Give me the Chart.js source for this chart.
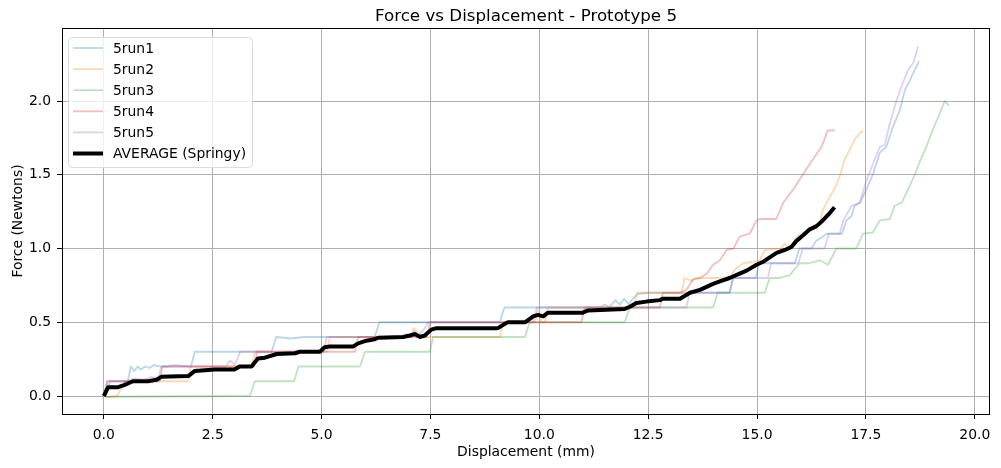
<!DOCTYPE html>
<html>
<head>
<meta charset="utf-8">
<script src="https://cdn.jsdelivr.net/npm/chart.js@4.4.0/dist/chart.umd.min.js"></script>
<style>
	html, body { margin: 0; padding: 0; background: #fff; }
</style>
</head>
<body>
<canvas id="forceChart" width="1001" height="468"></canvas>
<script>
// displacement (mm), force (N) pairs
const run1 = [[0,0],[0.15,0.1],[0.55,0.1],[0.62,0.2],[0.7,0.17],[0.78,0.2],[0.85,0.18],[0.95,0.2],[1.05,0.19],[1.15,0.21],[1.3,0.2],[1.45,0.2],[1.6,0.21],[2.0,0.2],[2.09,0.3],[3.85,0.3],[3.96,0.4],[4.3,0.39],[4.6,0.4],[6.22,0.4],[6.33,0.5],[9.09,0.5],[9.2,0.6],[11.4,0.6],[11.5,0.62],[11.6,0.6],[11.75,0.65],[11.85,0.62],[11.95,0.66],[12.05,0.62],[12.15,0.66],[12.25,0.69],[12.5,0.7],[14.37,0.7],[14.45,0.8],[14.97,0.8],[15.05,0.9],[15.87,0.9],[15.97,1.0],[16.25,1.0],[16.35,1.05],[16.6,1.1],[16.95,1.1],[17.05,1.19],[17.17,1.22],[17.24,1.29],[17.36,1.31],[17.51,1.4],[17.67,1.51],[17.82,1.65],[17.97,1.69],[18.09,1.8],[18.28,1.94],[18.39,2.07],[18.51,2.14],[18.62,2.21],[18.72,2.27]];
const run2 = [[0,0],[0.1,-0.01],[0.3,0],[0.4,0.05],[0.48,0.1],[1.93,0.1],[2.0,0.2],[3.4,0.2],[3.47,0.3],[5.12,0.3],[5.19,0.4],[7.05,0.4],[7.12,0.46],[7.2,0.43],[7.28,0.4],[9.1,0.4],[9.17,0.5],[9.9,0.5],[9.97,0.58],[10.05,0.5],[10.13,0.5],[10.2,0.6],[12.15,0.6],[12.25,0.7],[13.27,0.7],[13.34,0.8],[13.5,0.78],[13.6,0.8],[14.37,0.8],[14.5,0.86],[14.68,0.9],[14.9,0.91],[15.06,0.92],[15.18,0.99],[15.55,1.0],[15.64,1.035],[15.71,0.995],[15.8,1.02],[15.94,1.09],[16.13,1.11],[16.32,1.16],[16.44,1.17],[16.51,1.26],[16.63,1.33],[16.79,1.41],[16.9,1.49],[17.01,1.6],[17.13,1.67],[17.24,1.74],[17.36,1.78],[17.43,1.8]];
const run3 = [[0,0],[0.1,-0.005],[3.35,0],[3.47,0.1],[4.37,0.1],[4.47,0.2],[5.88,0.2],[6.0,0.3],[7.49,0.3],[7.56,0.4],[9.67,0.4],[9.78,0.5],[11.96,0.5],[12.08,0.6],[13.99,0.6],[14.1,0.7],[15.18,0.7],[15.29,0.8],[15.5,0.8],[15.75,0.82],[15.98,0.9],[16.2,0.9],[16.44,0.92],[16.63,0.89],[16.82,1.0],[17.28,1.0],[17.43,1.1],[17.66,1.11],[17.82,1.19],[18.05,1.2],[18.16,1.29],[18.32,1.31],[18.47,1.4],[18.62,1.5],[18.74,1.59],[18.89,1.69],[19.0,1.78],[19.16,1.89],[19.31,2.0],[19.41,1.97]];
const run4 = [[0,0],[0.08,0.1],[1.28,0.1],[1.35,0.2],[3.45,0.2],[3.52,0.3],[5.77,0.3],[5.84,0.4],[7.42,0.4],[7.49,0.5],[10.97,0.5],[11.04,0.6],[12.77,0.6],[12.84,0.7],[13.23,0.7],[13.38,0.72],[13.53,0.79],[13.69,0.8],[13.85,0.83],[13.99,0.89],[14.15,0.92],[14.3,0.99],[14.46,1.0],[14.6,1.08],[14.83,1.1],[14.99,1.19],[15.05,1.2],[15.44,1.2],[15.6,1.31],[15.83,1.4],[16.05,1.5],[16.25,1.59],[16.48,1.69],[16.55,1.74],[16.62,1.8],[16.78,1.8]];
const run5 = [[0,0],[0.08,0.1],[0.5,0.1],[0.7,0.12],[0.9,0.11],[1.1,0.13],[1.25,0.12],[1.32,0.2],[2.8,0.2],[2.9,0.24],[3.0,0.21],[3.08,0.26],[3.13,0.3],[5.05,0.3],[5.12,0.4],[6.85,0.4],[6.95,0.42],[7.05,0.4],[7.12,0.44],[7.22,0.41],[7.35,0.45],[7.45,0.5],[9.85,0.5],[9.95,0.6],[13.38,0.6],[13.45,0.7],[14.37,0.7],[14.45,0.8],[15.25,0.8],[15.32,0.9],[15.95,0.9],[16.05,1.0],[16.55,1.0],[16.65,1.1],[16.9,1.1],[16.98,1.19],[17.17,1.29],[17.36,1.31],[17.51,1.46],[17.67,1.58],[17.82,1.69],[17.93,1.7],[18.05,1.85],[18.2,2.0],[18.32,2.1],[18.47,2.21],[18.59,2.26],[18.7,2.37]];
const average = [[0,0],[0.1,0.06],[0.33,0.06],[0.48,0.075],[0.67,0.1],[1.02,0.1],[1.21,0.11],[1.32,0.13],[1.94,0.135],[2.09,0.17],[2.55,0.18],[3.0,0.18],[3.12,0.2],[3.39,0.2],[3.54,0.255],[3.7,0.26],[3.97,0.285],[4.39,0.29],[4.5,0.3],[4.96,0.3],[5.07,0.33],[5.19,0.335],[5.72,0.335],[5.84,0.357],[6.03,0.375],[6.22,0.385],[6.3,0.395],[6.87,0.4],[7.03,0.41],[7.14,0.42],[7.26,0.4],[7.37,0.41],[7.52,0.45],[7.64,0.46],[9.05,0.46],[9.21,0.49],[9.28,0.5],[9.67,0.5],[9.86,0.54],[9.97,0.55],[10.09,0.54],[10.2,0.565],[11.0,0.565],[11.12,0.58],[11.96,0.59],[12.08,0.605],[12.23,0.63],[12.46,0.64],[12.77,0.65],[12.84,0.66],[13.23,0.66],[13.46,0.7],[13.69,0.72],[13.84,0.74],[13.99,0.76],[14.18,0.78],[14.37,0.8],[14.6,0.83],[14.76,0.85],[14.99,0.89],[15.14,0.91],[15.29,0.94],[15.45,0.97],[15.64,0.99],[15.79,1.01],[15.9,1.05],[16.06,1.09],[16.21,1.13],[16.36,1.15],[16.51,1.19],[16.67,1.24],[16.78,1.28]];

const seriesNames = ['5run1', '5run2', '5run3', '5run4', '5run5', 'AVERAGE (Springy)'];
const seriesColors = ['rgba(31,119,180,0.3)', 'rgba(255,127,14,0.3)', 'rgba(44,160,44,0.3)', 'rgba(214,39,40,0.3)', 'rgba(148,103,189,0.3)', '#000000'];
const xTicks = [0, 2.5, 5, 7.5, 10, 12.5, 15, 17.5, 20];
const yTicks = [0, 0.5, 1.0, 1.5, 2.0];

const FONT = 'DejaVu Sans';
const allRuns = [run1, run2, run3, run4, run5, average];

const datasets = allRuns.map((pts, i) => ({
	label: seriesNames[i],
	data: pts.map(p => ({x: p[0], y: p[1]})),
	showLine: true,
	borderColor: seriesColors[i],
	backgroundColor: seriesColors[i],
	borderWidth: i === 5 ? 4 : 1.8,
	pointRadius: 0,
	tension: 0,
	borderJoinStyle: 'round',
	borderCapStyle: 'butt',
	order: allRuns.length - 1 - i // later series on top, average topmost
}));

// frame, title and matplotlib-style legend inside the axes
const mplLook = {
	id: 'mplLook',
	beforeDraw(chart) {
		const c = chart.ctx;
		c.save();
		c.fillStyle = '#fff';
		c.fillRect(0, 0, chart.width, chart.height);
		c.restore();
	},
	afterDraw(chart) {
		const c = chart.ctx;
		const a = chart.chartArea;
		c.save();
		c.strokeStyle = '#000';
		c.lineWidth = 1;
		c.strokeRect(Math.round(a.left) + 0.5, Math.round(a.top) + 0.5, Math.round(a.right - a.left) - 1, Math.round(a.bottom - a.top));

		c.fillStyle = '#000';
		c.font = '16.7px "' + FONT + '"';
		c.textAlign = 'center';
		c.textBaseline = 'middle';
		c.fillText('Force vs Displacement - Prototype 5', (a.left + a.right) / 2, 17);

		// legend box
		const bx = 68, by = 37, bw = 184, bh = 130;
		c.beginPath();
		c.roundRect(bx + 0.5, by + 0.5, bw, bh, 4);
		c.fillStyle = 'rgba(255,255,255,0.8)';
		c.fill();
		c.strokeStyle = '#dcdcdc';
		c.stroke();
		c.font = '13.9px "' + FONT + '"';
		c.textAlign = 'left';
		chart.data.datasets.forEach((ds, i) => {
			const y = 48 + i * 21.1;
			c.beginPath();
			c.moveTo(73, y);
			c.lineTo(103, y);
			c.strokeStyle = ds.borderColor;
			c.lineWidth = ds.borderWidth;
			c.stroke();
			c.fillStyle = '#000';
			c.fillText(ds.label, 113, y + 1);
		});
		c.restore();
	}
};

const tickFont = {family: FONT, size: 13.9};

new Chart(document.getElementById('forceChart'), {
	type: 'scatter',
	data: {datasets: datasets},
	plugins: [mplLook],
	options: {
		responsive: false,
		animation: false,
		devicePixelRatio: 1,
		layout: {padding: {top: 28, right: 11, left: 0, bottom: 0}},
		plugins: {
			legend: {display: false},
			tooltip: {enabled: false},
			title: {display: false}
		},
		scales: {
			x: {
				type: 'linear',
				min: -0.96,
				max: 20.35,
				afterBuildTicks: (s) => { s.ticks = xTicks.map(v => ({value: v})); },
				afterFit: (s) => { s.height = 54; },
				ticks: {
					color: '#000',
					font: tickFont,
					padding: 8,
					maxRotation: 0,
					callback: (v) => Number(v).toFixed(1)
				},
				grid: {color: '#b0b0b0', lineWidth: 1, tickColor: '#000', tickLength: 5, tickWidth: 1},
				border: {display: false},
				title: {
					display: true,
					text: 'Displacement (mm)',
					color: '#000',
					font: {family: FONT, size: 13.9, lineHeight: 1.2},
					padding: {top: 0, bottom: 7}
				}
			},
			y: {
				type: 'linear',
				min: -0.122,
				max: 2.495,
				afterBuildTicks: (s) => { s.ticks = yTicks.map(v => ({value: v})); },
				afterFit: (s) => { s.width = 62; },
				ticks: {
					color: '#000',
					font: tickFont,
					padding: 6,
					callback: (v) => Number(v).toFixed(1)
				},
				grid: {color: '#b0b0b0', lineWidth: 1, tickColor: '#000', tickLength: 5, tickWidth: 1},
				border: {display: false},
				title: {
					display: true,
					text: 'Force (Newtons)',
					color: '#000',
					font: {family: FONT, size: 13.9, lineHeight: 1.2},
					padding: {top: 10, bottom: 0}
				}
			}
		}
	}
});
</script>
</body>
</html>
